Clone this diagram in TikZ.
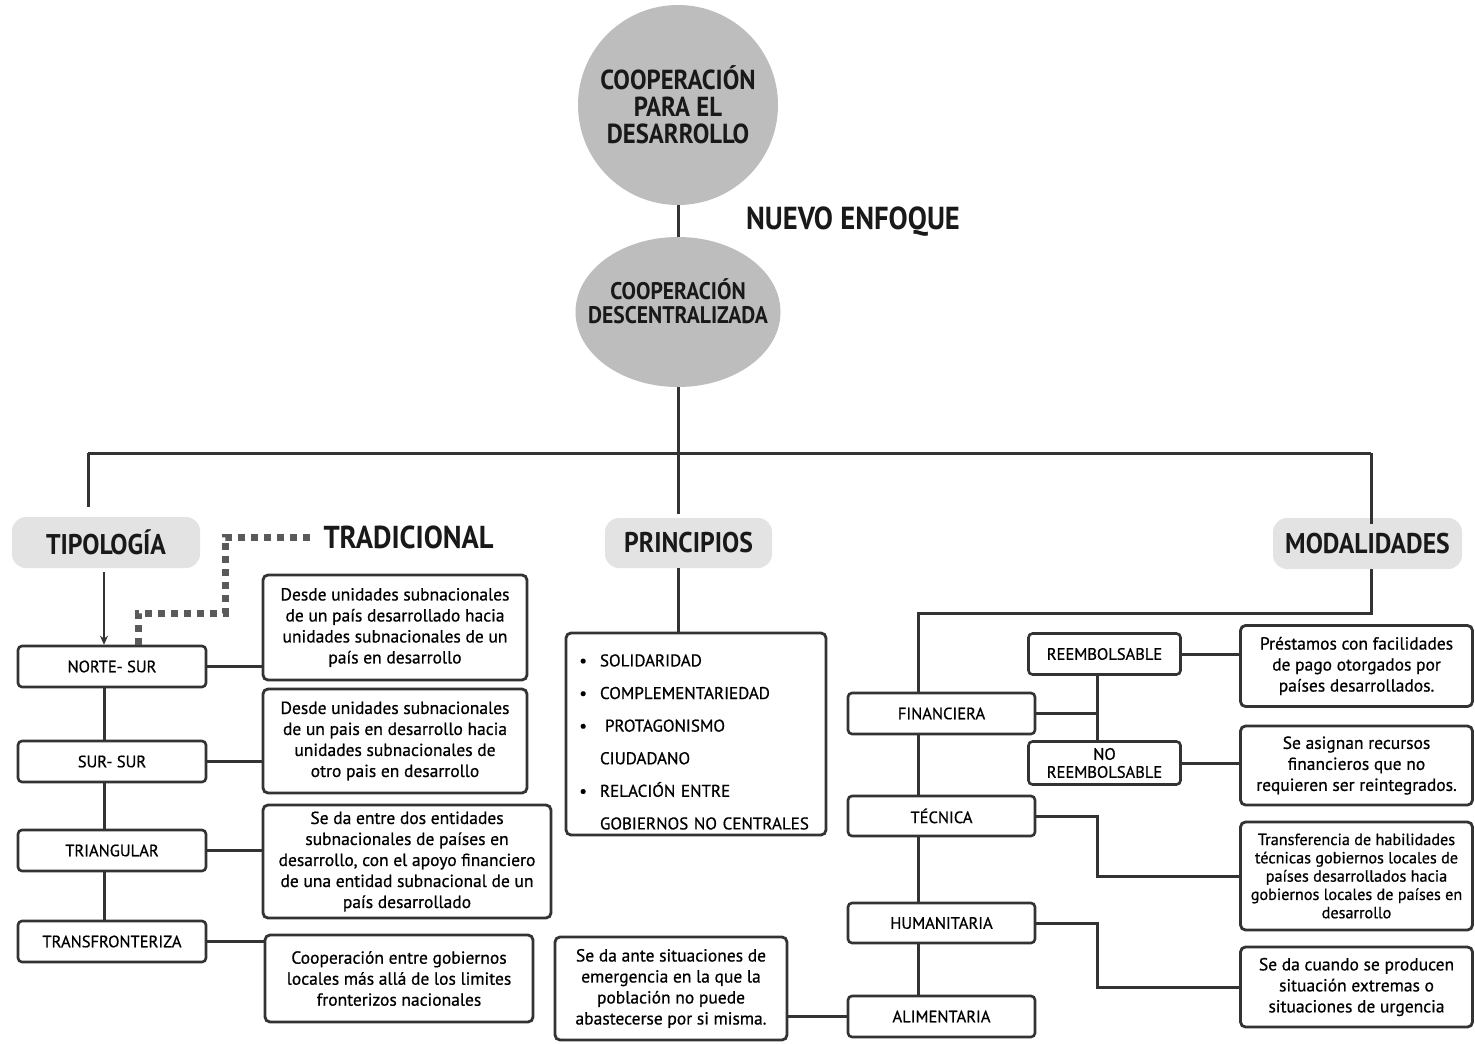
\documentclass[tikz,border=0pt]{standalone}
\usepackage{fontspec}
\setmainfont{PT Sans}
\newfontfamily\headfont{PT Sans}[FakeStretch=0.9]
\newfontfamily\bodyfont{PT Sans}[FakeBold=0.7]
\usetikzlibrary{shapes.geometric,arrows.meta}
\definecolor{ink}{HTML}{333333}
\definecolor{discgray}{HTML}{BDBDBD}
\definecolor{headgray}{HTML}{E3E3E3}
\definecolor{dotgray}{HTML}{5A5A5A}

\begin{document}
\begin{tikzpicture}[x=1pt,y=-1pt,
  disc/.style={fill=discgray,draw=none,align=center,text=black!90,font=\headfont\bfseries\fontsize{27.5}{27}\selectfont},
  headbox/.style={fill=headgray,draw=none,rounded corners=14pt,inner sep=0pt,text=black!90,font=\headfont\bfseries\fontsize{28.5}{30}\selectfont},
  lblbox/.style={draw=ink,line width=2.6pt,rounded corners=4pt,fill=white,inner sep=0pt,align=center,font=\bodyfont\fontsize{16.5}{18}\selectfont},
  txtbox/.style={draw=ink,line width=2.8pt,rounded corners=5pt,fill=white,inner sep=0pt,align=center,font=\bodyfont\fontsize{17.5}{21}\selectfont},
  link/.style={draw=ink,line width=3pt},
  tradline/.style={draw=dotgray,line width=7pt,dash pattern=on 7pt off 6pt}]
\useasboundingbox[fill=white] (0,0) rectangle (1475,1044);

\node[disc,circle,minimum size=200pt] (coop) at (678,105) {COOPERACIÓN\\PARA EL\\DESARROLLO};
\node[disc,ellipse,minimum width=205pt,minimum height=150pt,inner xsep=-18pt,inner ysep=0pt,text depth=22pt,font=\headfont\bfseries\fontsize{24}{24}\selectfont] (descen) at (678,312) {COOPERACIÓN\\DESCENTRALIZADA};
\node[text=black!90,font=\headfont\bfseries\fontsize{31.8}{32}\selectfont] (nuevo) at (853,222) {NUEVO ENFOQUE};
\draw[link] (coop) -- (descen);

\coordinate (hub) at (678,453);
\coordinate (hl) at (88,453);
\coordinate (hr) at (1371,453);
\draw[link] (descen.south) -- (hub);
\draw[link] (hl) -- (hr);

\node[headbox,minimum width=188pt,minimum height=51pt] (tipo) at (106,542.5) {TIPOLOGÍA};
\node[headbox,minimum width=167pt,minimum height=50pt] (princ) at (688.5,543) {PRINCIPIOS};
\node[headbox,minimum width=189pt,minimum height=51pt] (modal) at (1367.5,543.5) {MODALIDADES};
\draw[link,shorten >=10pt] (hl) -- (hl |- tipo.north);
\draw[link,shorten >=4pt] (hub) -- (hub |- princ.north);
\draw[link,shorten >=-6pt] (hr) -- (hr |- modal.north);

\node[text=black!90,font=\headfont\bfseries\fontsize{31.7}{32}\selectfont,anchor=west] (trad) at (320,537) {TRADICIONAL};

\node[lblbox,minimum width=188pt,minimum height=41pt] (norte) at (112,666.5) {NORTE- SUR};
\node[lblbox,minimum width=188pt,minimum height=41pt] (sursur) at (112,761.5) {SUR- SUR};
\node[lblbox,minimum width=188pt,minimum height=41pt] (triang) at (112,850.5) {TRIANGULAR};
\node[lblbox,minimum width=188pt,minimum height=41pt] (transf) at (112,941.5) {TRANSFRONTERIZA};

\coordinate (lx) at (104,0);
\coordinate (d1) at (225,537);
\coordinate (d2) at (138,613);
\draw[tradline] (trad.west) ++(-10,0) -- (d1) |- (d2) -- (d2 |- norte.north);
\draw[link,-{Stealth[length=9pt,width=8pt]},line width=2pt,shorten <=4pt] (tipo.south -| lx) -- (norte.north -| lx);
\draw[link] (norte.south -| lx) -- (sursur.north -| lx);
\draw[link] (sursur.south -| lx) -- (triang.north -| lx);
\draw[link] (triang.south -| lx) -- (transf.north -| lx);

\node[txtbox,minimum width=264pt,minimum height=105pt] (dNorte) at (395,627.5) {Desde unidades subnacionales\\de un país desarrollado hacia\\unidades subnacionales de un\\país en desarrollo};
\node[txtbox,minimum width=264pt,minimum height=104pt] (dSur) at (395,741) {Desde unidades subnacionales\\de un pais en desarrollo hacia\\unidades subnacionales de\\otro pais en desarrollo};
\node[txtbox,minimum width=288pt,minimum height=113pt] (dTri) at (407,861.5) {Se da entre dos entidades\\subnacionales de países en\\desarrollo, con el apoyo financiero\\de una entidad subnacional de un\\país desarrollado};
\node[txtbox,minimum width=268pt,minimum height=87pt] (dTrans) at (399,978.5) {Cooperación entre gobiernos\\locales más allá de los limites\\fronterizos nacionales};
\draw[link] (norte.east) -- (norte.east -| dNorte.west);
\draw[link] (sursur.east) -- (sursur.east -| dSur.west);
\draw[link] (triang.east) -- (triang.east -| dTri.west);
\draw[link] (transf.east) -- (transf.east -| dTrans.west);

\node[txtbox,minimum width=260pt,minimum height=202pt,text width=240pt,inner xsep=10pt,align=left,font=\bodyfont\fontsize{17}{32.6}\selectfont] (plist) at (696,734) {\leftskip=24pt
\leavevmode\llap{\textbullet\hspace{13pt}}\rule{0pt}{28pt}SOLIDARIDAD\\
\leavevmode\llap{\textbullet\hspace{13pt}}COMPLEMENTARIEDAD\\
\leavevmode\llap{\textbullet\hspace{13pt}}\hspace{5pt}PROTAGONISMO\\
CIUDADANO\\
\leavevmode\llap{\textbullet\hspace{13pt}}RELACIÓN ENTRE\\
GOBIERNOS NO CENTRALES\par};
\draw[link] (princ.south -| hub) -- (plist.north -| hub);

\node[txtbox,minimum width=232pt,minimum height=103pt] (dAlim) at (671,988.5) {Se da ante situaciones de\\emergencia en la que la\\población no puede\\abastecerse por si misma.};

\node[lblbox,minimum width=187pt,minimum height=41pt] (finan) at (941.5,713.5) {FINANCIERA};
\node[lblbox,minimum width=187pt,minimum height=40pt] (tecn) at (941.5,816) {TÉCNICA};
\node[lblbox,minimum width=187pt,minimum height=40pt] (human) at (941.5,923) {HUMANITARIA};
\node[lblbox,minimum width=187pt,minimum height=41pt] (alim) at (941.5,1016.5) {ALIMENTARIA};
\node[lblbox,minimum width=152pt,minimum height=41pt] (reemb) at (1104.5,654) {REEMBOLSABLE};
\node[lblbox,minimum width=152pt,minimum height=43pt] (noreemb) at (1104.5,763) {NO\\REEMBOLSABLE};

\coordinate (mturn) at (918,613);
\coordinate (rx) at (1097,0);
\draw[link] (modal.south -| hr) |- (mturn) -- (mturn |- finan.north);
\draw[link] (finan.south -| mturn) -- (tecn.north -| mturn);
\draw[link] (tecn.south -| mturn) -- (human.north -| mturn);
\draw[link] (human.south -| mturn) -- (alim.north -| mturn);
\draw[link] (reemb.south -| rx) -- (noreemb.north -| rx);
\draw[link] (finan.east) -- (finan.east -| rx);

\node[txtbox,minimum width=232pt,minimum height=81pt] (dReemb) at (1356.5,666) {Préstamos con facilidades\\de pago otorgados por\\países desarrollados.};
\node[txtbox,minimum width=232pt,minimum height=79pt] (dNoReemb) at (1356.5,765.5) {Se asignan recursos\\financieros que no\\requieren ser reintegrados.};
\node[txtbox,minimum width=232pt,minimum height=108pt,font=\bodyfont\fontsize{16.2}{18.3}\selectfont] (dTecn) at (1356.5,876) {Transferencia de habilidades\\técnicas gobiernos locales de\\países desarrollados hacia\\gobiernos locales de países en\\desarrollo};
\node[txtbox,minimum width=232pt,minimum height=80pt] (dHuman) at (1356.5,987) {Se da cuando se producen\\situación extremas o\\situaciones de urgencia};

\draw[link] (reemb.east) -- (reemb.east -| dReemb.west);
\draw[link] (noreemb.east) -- (noreemb.east -| dNoReemb.west);
\draw[link] (tecn.east) -- (tecn.east -| rx) |- (dTecn.west);
\draw[link] (human.east) -- (human.east -| rx) |- (dHuman.west);
\draw[link] (alim.west) -- (alim.west -| dAlim.east);
\end{tikzpicture}
\end{document}
